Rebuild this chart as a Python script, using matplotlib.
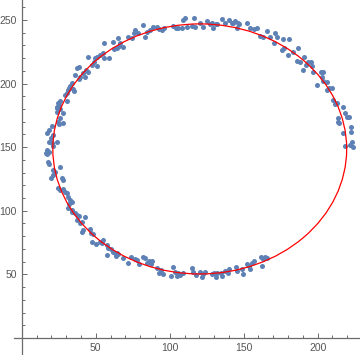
import matplotlib
matplotlib.use("Agg")
import matplotlib.pyplot as plt
from matplotlib.patches import Ellipse
from matplotlib.ticker import MultipleLocator, FixedLocator

# sample points, going round from the bottom right
x_pts = [
    # left side
    23.6, 27.7, 25.9, 24.8, 27.7, 25.4, 20.3, 18.7, 17.3, 21.4, 19.6, 18.7, 20.3,
    24.1, 20.9, 16.9, 16.4, 18.7, 17.3, 18.0, 18.7, 21.4, 25.9, 22.5, 20.9, 20.0,
    27.0, 27.7, 24.8, 25.9, 28.1, 29.3, 30.4, 31.5, 32.6, 33.8, 32.2, 31.5, 33.8,
    # upper left
    65.3, 61.5, 55.6, 66.4, 68.2, 64.2, 62.4, 66.0, 54.7, 52.9, 51.1, 49.5, 45.0,
    55.6, 59.2, 51.1, 47.3, 48.8, 37.6, 39.0, 43.4, 45.0, 41.6, 36.0, 39.4, 38.9,
    42.8, 33.8, 32.6, 32.2, 34.4, 35.3, 31.5, 30.4, 29.3, 30.8, 25.9, 24.8, 25.4,
    24.1, 23.6, 25.9,
    # top
    72.0, 74.3, 76.5, 75.9, 78.8, 81.7, 83.3, 84.9, 86.7, 88.9, 91.2, 93.0, 94.6,
    96.1, 102.4, 104.2, 105.8,
    110.4, 108.1, 111.5, 116.5, 117.1, 120.5, 122.8, 125.5, 127.3, 129.1, 128.4,
    131.3, 135.2, 137.4, 140.3, 141.9, 144.2, 146.4, 145.7, 152.0, 154.3, 157.0,
    159.3, 109.2, 114.8, 132.2, 143.0, 147.0,
    # upper right
    161.1, 162.9, 166.0, 167.8, 171.2, 172.3, 170.5, 176.4, 177.3, 175.7, 180.9,
    180.2, 183.1, 187.0, 185.8, 188.1, 190.8, 192.1, 190.3, 193.7, 195.3, 196.0,
    196.6, 202.0, 203.4, 199.8, 202.7, 203.8, 206.1, 206.1, 207.9, 209.5, 210.6,
    211.7, 212.9, 217.4, 218.5, 219.6, 221.4, 214.0, 214.0, 214.7, 222.3, 217.4,
    222.3, 223.0, 224.1, 218.5, 221.8,
    # lower left
    33.8, 36.0, 37.1, 38.9, 37.6, 39.4, 40.5, 42.8, 41.6, 40.5, 46.1, 46.6, 48.0,
    47.3, 50.2, 52.9, 54.0, 55.2, 57.9, 58.5, 57.9, 60.1, 61.5, 63.0, 64.2, 65.3,
    63.7, 68.2, 72.0, 73.6, 76.6, 78.1, 79.5,
    # bottom
    81.8, 83.3, 84.9, 86.3, 87.2, 87.8, 91.7, 93.0, 95.3, 93.9, 100.7, 102.5,
    103.6, 104.7, 107.0, 105.9, 108.8, 114.9, 116.0, 117.8, 120.5, 121.6, 122.7,
    123.9, 128.4, 130.0, 131.3, 132.2, 135.1, 134.5, 137.4, 139.6, 140.3, 144.8,
    145.7, 148.7, 149.8, 152.0, 153.8, 155.4, 157.0, 154.3, 161.5, 162.8, 164.4,
    166.0, 162.2,
]
y_pts = [
    177.9, 176.6, 172.7, 170.0, 169.2, 168.2, 166.6, 163.5, 161.4, 159.5, 156.9,
    154.3, 153.0, 154.3, 150.9, 147.8, 145.7, 146.4, 144.6, 138.6, 136.7, 132.0,
    134.6, 130.7, 128.1, 125.5, 125.5, 124.2, 117.6, 116.3, 116.8, 115.0, 113.7,
    111.1, 108.4, 107.1, 105.3, 101.9, 100.6,
    236.1, 232.4, 231.6, 231.6, 229.0, 227.7, 227.2, 229.8, 223.8, 222.5, 221.1,
    219.8, 221.1, 220.4, 220.4, 214.1, 214.6, 217.2, 212.5, 213.3, 210.7, 208.8,
    208.0, 206.7, 205.4, 203.6, 205.4, 200.2, 198.3, 196.8, 195.7, 194.2, 194.9,
    192.3, 191.0, 186.3, 186.3, 184.5, 183.1, 181.8, 180.5, 180.0,
    236.9, 235.6, 242.2, 239.6, 240.1, 246.1, 236.4, 240.9, 242.2, 244.3, 244.3,
    242.7, 242.2, 243.5, 245.3, 243.5, 243.5,
    251.3, 243.4, 244.2, 251.3, 244.7, 247.4, 244.2, 249.5, 246.8, 243.4, 247.4,
    246.8, 250.5, 247.4, 250.0, 247.9, 249.5, 247.4, 243.4, 247.4, 243.4, 242.6,
    243.4, 250.0, 245.3, 246.9, 247.9, 246.9,
    237.4, 236.9, 241.6, 236.9, 239.5, 236.3, 231.6, 234.8, 227.7, 226.4, 234.8,
    222.5, 225.1, 227.7, 218.0, 217.2, 221.2, 214.6, 210.7, 217.2, 217.2, 213.8,
    209.4, 209.4, 209.4, 198.9, 204.9, 202.3, 201.5, 194.9, 196.3, 196.3, 187.1,
    183.9, 184.5, 181.3, 176.6, 173.5, 173.5, 172.7, 170.0, 168.7, 166.1, 160.9,
    162.2, 154.3, 150.4, 150.9, 151.7,
    99.3, 98.5, 96.7, 95.9, 92.7, 90.6, 91.4, 94.8, 84.9, 83.6, 85.4, 82.3, 81.7,
    75.7, 73.9, 75.7, 74.4, 77.0, 73.1, 70.5, 65.2, 69.7, 67.9, 66.5, 67.1, 66.0,
    64.4, 62.6, 59.2, 63.4, 61.8, 61.3, 58.1,
    63.9, 62.6, 59.2, 60.8, 58.1, 60.8, 54.7, 51.3, 50.3, 53.4, 48.7, 55.5, 52.1,
    48.7, 49.5, 50.8, 51.3, 54.7, 52.1, 49.5, 52.1, 47.6, 50.3, 52.1, 50.3, 51.3,
    48.2, 50.8, 48.7, 51.3, 52.9, 51.3, 53.9, 55.5, 52.9, 53.9, 50.3, 58.1, 56.6,
    59.2, 60.8, 53.9, 63.9, 61.8, 63.4, 62.6, 56.6,
]

# fitted ellipse
fit_center = (120.3, 148.6)
fit_width = 198.6
fit_height = 196.6

x_major = [50, 100, 150, 200]
y_major = [50, 100, 150, 200, 250]

point_color = (0.368417, 0.506779, 0.709798)
axis_color = "#6b6b6b"

plt.rcParams["font.family"] = ["Liberation Sans", "DejaVu Sans"]

fig = plt.figure(figsize=(3.6, 3.55), dpi=100)
ax = fig.add_axes([0, 0, 1, 1])

ax.scatter(x_pts, y_pts, s=13, color=point_color, linewidths=0, zorder=2)
ax.add_patch(Ellipse(fit_center, fit_width, fit_height, fill=False,
                     edgecolor="red", linewidth=0.9, zorder=3))

ax.set_xlim(-14.7, 228.6)
ax.set_ylim(-13.4, 265.7)

for side in ["top", "right"]:
    ax.spines[side].set_visible(False)
ax.spines["left"].set_position(("data", 0))
ax.spines["bottom"].set_position(("data", 0))
ax.spines["bottom"].set_bounds(-5.2, 228.6)
for side in ["left", "bottom"]:
    ax.spines[side].set_color(axis_color)
    ax.spines[side].set_linewidth(0.9)

ax.xaxis.set_major_locator(FixedLocator(x_major))
ax.yaxis.set_major_locator(FixedLocator(y_major))
ax.xaxis.set_minor_locator(FixedLocator([v for v in range(10, 230, 10) if v % 50]))
ax.yaxis.set_minor_locator(FixedLocator([v for v in range(10, 270, 10) if v % 50]))

ax.tick_params(which="both", direction="in", color=axis_color, width=0.7,
               labelsize=7.5, labelcolor="#555555", pad=3.5)
ax.tick_params(which="major", length=3.8)
ax.tick_params(which="minor", length=2.3)

fig.savefig("out.png", dpi=100)
